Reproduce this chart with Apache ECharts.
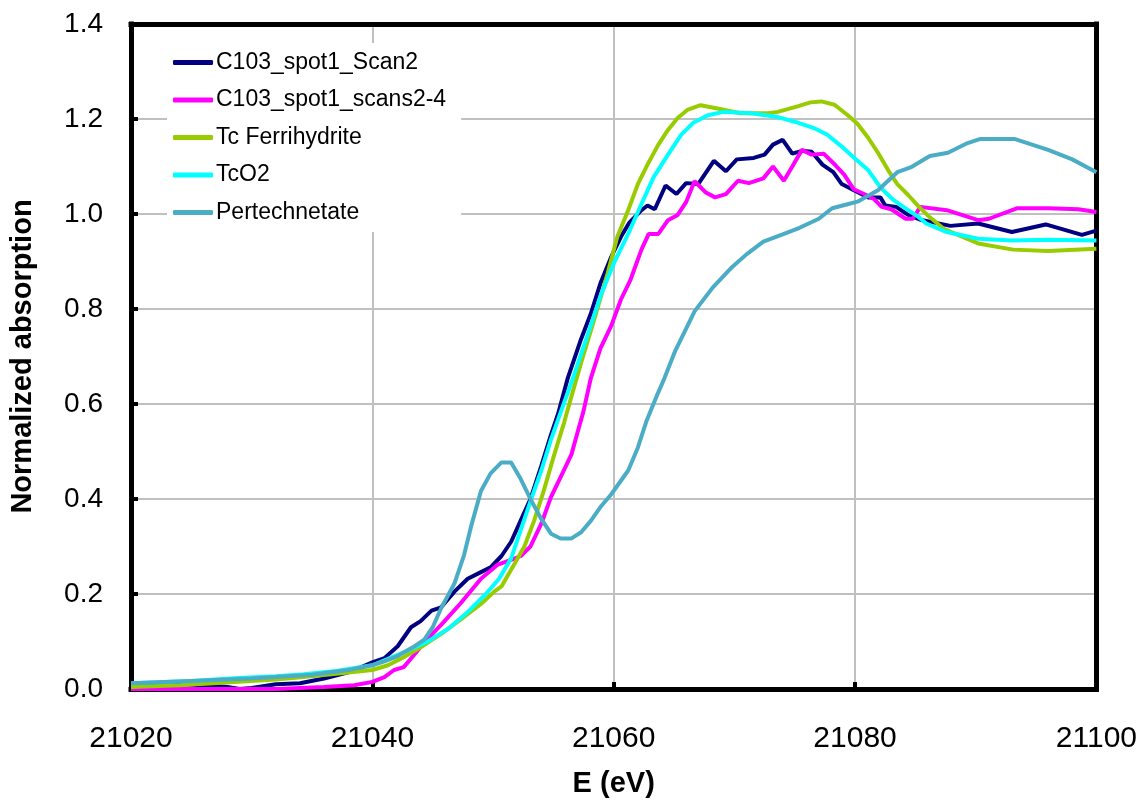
<!DOCTYPE html>
<html>
<head>
<meta charset="utf-8">
<script src="https://cdn.jsdelivr.net/npm/echarts@6/dist/echarts.min.js"></script>
<style>
html,body{margin:0;padding:0;background:#fff;}
#chart{width:1140px;height:803px;}
</style>
</head>
<body>
<div id="chart"></div>
<script>
const seriesNames = ['C103_spot1_Scan2', 'C103_spot1_scans2-4', 'Tc Ferrihydrite', 'TcO2', 'Pertechnetate'];
const xTicks = [21020, 21040, 21060, 21080, 21100];
const yTicks = [0.0, 0.2, 0.4, 0.6, 0.8, 1.0, 1.2, 1.4];

const scan2 = [
[21020,0.008],[21022,0.008],[21024,0.01],[21026,0.008],[21028,0.004],[21029,0.0],[21030,0.002],
[21032,0.01],[21034,0.012],[21036,0.022],[21038,0.035],[21039,0.045],[21040,0.056],[21041,0.065],
[21042.1,0.09],[21043.2,0.13],[21044,0.143],[21044.9,0.165],[21045.7,0.172],[21046.8,0.205],
[21047.9,0.232],[21049,0.246],[21049.8,0.256],[21050.7,0.28],[21051.5,0.31],[21052.3,0.355],
[21053.1,0.40],[21054,0.47],[21054.8,0.535],[21055.4,0.58],[21056.2,0.655],[21057.3,0.737],
[21058.1,0.79],[21058.9,0.854],[21059.8,0.91],[21060.6,0.952],[21061.3,0.982],[21062.3,1.008],
[21062.8,1.018],[21063.4,1.01],[21064.3,1.06],[21065.2,1.042],[21066,1.065],[21067,1.063],
[21068.3,1.112],[21069.3,1.09],[21070.2,1.115],[21071.6,1.118],[21072.5,1.125],[21073.2,1.146],
[21074,1.156],[21074.8,1.127],[21075.6,1.133],[21076.4,1.131],[21077.3,1.104],[21078.2,1.088],
[21078.9,1.063],[21079.9,1.05],[21081.1,1.035],[21082.1,1.035],[21082.5,1.018],[21083.4,1.015],
[21084.4,0.998],[21085.4,0.988],[21086,0.985],[21087.9,0.975],[21090.2,0.98],[21093,0.962],
[21095.8,0.978],[21098.8,0.956],[21100,0.965]
];

const scans24 = [
[21020,0.0],[21025,0.0],[21030,0.0],[21032,0.0],[21034,0.002],[21036,0.004],[21038.5,0.008],
[21040,0.015],[21041,0.025],[21041.8,0.04],[21042.6,0.046],[21043.4,0.07],[21044.3,0.098],
[21045.7,0.135],[21047.3,0.18],[21049,0.232],[21050.4,0.262],[21051.5,0.272],[21052.3,0.28],
[21053.1,0.3],[21054,0.348],[21054.8,0.404],[21055.6,0.446],[21056.5,0.494],[21057,0.54],
[21057.5,0.585],[21058.1,0.654],[21058.9,0.717],[21059.8,0.765],[21060.6,0.82],[21061.4,0.862],
[21062.3,0.925],[21062.9,0.958],[21063.7,0.958],[21064.5,0.987],[21065.3,0.998],[21066,1.025],
[21066.7,1.069],[21067.6,1.046],[21068.4,1.035],[21069.3,1.042],[21070.3,1.07],[21071.2,1.065],
[21072.4,1.075],[21073.2,1.1],[21074.1,1.07],[21074.8,1.1],[21075.6,1.135],[21076.4,1.125],
[21077.4,1.127],[21078.4,1.102],[21079.1,1.083],[21079.9,1.052],[21081.1,1.038],[21081.6,1.031],
[21082.2,1.015],[21083,1.01],[21084.2,0.99],[21084.8,0.99],[21085.4,1.015],[21087.6,1.008],
[21090.2,0.987],[21091.1,0.99],[21093.4,1.012],[21096,1.012],[21098.5,1.01],[21100,1.004]
];

const ferrihydrite = [
[21020,0.004],[21024,0.008],[21028.9,0.015],[21032,0.02],[21034.3,0.025],[21037,0.032],
[21040,0.04],[21041.3,0.05],[21042.6,0.067],[21044,0.088],[21045.7,0.116],[21047.3,0.146],
[21049,0.179],[21050.1,0.205],[21050.7,0.216],[21051.7,0.26],[21052.6,0.3],[21053.4,0.354],
[21054.2,0.417],[21055,0.487],[21055.9,0.562],[21056.6,0.625],[21057.3,0.687],[21058.4,0.779],
[21059.5,0.875],[21060.3,0.952],[21061.2,1.008],[21062,1.063],[21062.8,1.104],[21063.7,1.146],
[21064.5,1.177],[21065.3,1.202],[21066.1,1.219],[21067.2,1.229],[21068.6,1.222],[21070.5,1.212],
[21072.8,1.212],[21073.6,1.215],[21075.3,1.227],[21076.3,1.235],[21077.2,1.237],[21078.3,1.23],
[21079.4,1.208],[21080.2,1.19],[21081.1,1.16],[21081.9,1.129],[21082.7,1.094],[21083.5,1.063],
[21084.4,1.04],[21085.3,1.015],[21086.2,0.993],[21087.4,0.968],[21090.2,0.938],[21093.1,0.925],
[21096,0.922],[21100,0.927]
];

const tco2 = [
[21020,0.012],[21025,0.017],[21028.9,0.023],[21032,0.027],[21034.3,0.031],[21037,0.038],
[21040,0.05],[21042.6,0.077],[21044.6,0.1],[21046.3,0.127],[21047.9,0.162],[21049.4,0.2],
[21050.5,0.232],[21051.5,0.275],[21052.3,0.335],[21053.1,0.395],[21054,0.46],[21054.8,0.525],
[21055.5,0.575],[21056.7,0.66],[21057.9,0.75],[21058.9,0.827],[21060,0.896],[21061.2,0.958],
[21062.3,1.021],[21063.3,1.077],[21064.5,1.125],[21065.6,1.167],[21066.6,1.192],[21067.8,1.208],
[21069.1,1.215],[21070.5,1.213],[21071.4,1.212],[21073.6,1.204],[21075.3,1.192],[21076.6,1.181],
[21077.7,1.167],[21078.8,1.144],[21079.9,1.119],[21081.1,1.092],[21082.1,1.056],[21083.2,1.029],
[21084.4,1.008],[21085.2,0.995],[21085.9,0.98],[21087.6,0.962],[21090.2,0.948],[21093,0.944],
[21096,0.946],[21100,0.944]
];

const pertechnetate = [
[21020,0.012],[21025,0.017],[21030,0.022],[21035,0.03],[21038,0.04],[21040,0.05],[21041,0.058],
[21042,0.068],[21042.6,0.077],[21043.5,0.09],[21044.3,0.104],[21045,0.13],[21045.7,0.17],
[21046.8,0.222],[21047.6,0.282],[21048.2,0.344],[21049,0.417],[21049.8,0.454],[21050.7,0.477],
[21051.5,0.477],[21052.3,0.442],[21053.1,0.4],[21054,0.358],[21054.8,0.327],[21055.6,0.317],
[21056.5,0.317],[21057.3,0.33],[21058.1,0.354],[21058.9,0.383],[21059.8,0.41],[21061.2,0.46],
[21062,0.508],[21062.7,0.563],[21063.6,0.619],[21064.2,0.654],[21065.1,0.712],[21066.7,0.795],
[21068.2,0.845],[21069.8,0.888],[21071,0.915],[21072.4,0.942],[21074,0.957],[21075.4,0.971],
[21077,0.99],[21078.1,1.012],[21079.3,1.02],[21080.2,1.026],[21081.2,1.04],[21081.9,1.05],
[21083.5,1.088],[21084.6,1.098],[21086.2,1.122],[21087.7,1.129],[21089.2,1.148],[21090.4,1.158],
[21093.2,1.158],[21096,1.135],[21098,1.115],[21100,1.088]
];

const seriesData = [scan2, scans24, ferrihydrite, tco2, pertechnetate];
const seriesColors = ['#000080', '#FF00FF', '#99CC00', '#00FFFF', '#4BACC6'];

const FONT = '"Liberation Sans", Arial, sans-serif';
const chart = echarts.init(document.getElementById('chart'), null, {renderer: 'canvas'});

const frameLine = {show: true, onZero: false, lineStyle: {color: '#000', width: 5, cap: 'square'}};
const hiddenAxisParts = {
  axisTick: {show: false}, axisLabel: {show: false}, splitLine: {show: false}
};

chart.setOption({
  animation: false,
  backgroundColor: '#ffffff',
  textStyle: {fontFamily: FONT},
  grid: {left: 130, top: 24, width: 967, height: 673, show: false},
  legend: {
    data: seriesNames,
    orient: 'vertical',
    left: 167, top: 43,
    backgroundColor: '#ffffff',
    padding: [8, 15, 8, 6],
    itemGap: 14.5,
    itemWidth: 40,
    itemHeight: 5,
    icon: 'roundRect',
    textStyle: {fontFamily: FONT, fontSize: 23, color: '#000', padding: [0, 0, 0, -2]},
    selectedMode: false
  },
  xAxis: [{
    type: 'value',
    min: xTicks[0], max: xTicks[xTicks.length - 1], interval: 20,
    name: 'E (eV)', nameLocation: 'middle', nameGap: 80,
    nameTextStyle: {fontFamily: FONT, fontSize: 29, fontWeight: 'bold', color: '#000'},
    axisLine: frameLine,
    axisTick: {show: true, inside: true, length: 7, lineStyle: {color: '#000', width: 4}},
    axisLabel: {fontFamily: FONT, fontSize: 30, color: '#000', margin: 35,
      formatter: v => String(v)},
    splitLine: {show: true, lineStyle: {color: '#C0C0C0', width: 2}}
  }, Object.assign({
    type: 'value', position: 'top',
    min: xTicks[0], max: xTicks[xTicks.length - 1], interval: 20,
    axisLine: frameLine
  }, hiddenAxisParts)],
  yAxis: [{
    type: 'value',
    min: yTicks[0], max: yTicks[yTicks.length - 1], interval: 0.2,
    name: 'Normalized absorption', nameLocation: 'middle', nameGap: 94,
    nameTextStyle: {fontFamily: FONT, fontSize: 29, fontWeight: 'bold', color: '#000'},
    axisLine: frameLine,
    axisTick: {show: true, inside: true, length: 7, lineStyle: {color: '#000', width: 4}},
    axisLabel: {fontFamily: FONT, fontSize: 28, color: '#000', margin: 28,
      formatter: v => v.toFixed(1)},
    splitLine: {show: true, lineStyle: {color: '#C0C0C0', width: 2}}
  }, Object.assign({
    type: 'value', position: 'right',
    min: yTicks[0], max: yTicks[yTicks.length - 1], interval: 0.2,
    axisLine: frameLine
  }, hiddenAxisParts)],
  series: seriesNames.map((name, i) => ({
    name: name,
    type: 'line',
    xAxisIndex: 0,
    yAxisIndex: 0,
    data: seriesData[i],
    showSymbol: false,
    symbol: 'none',
    smooth: false,
    clip: true,
    lineStyle: {color: seriesColors[i], width: 4},
    itemStyle: {color: seriesColors[i]},
    emphasis: {disabled: true},
    z: 2 + i
  }))
});
</script>
</body>
</html>
